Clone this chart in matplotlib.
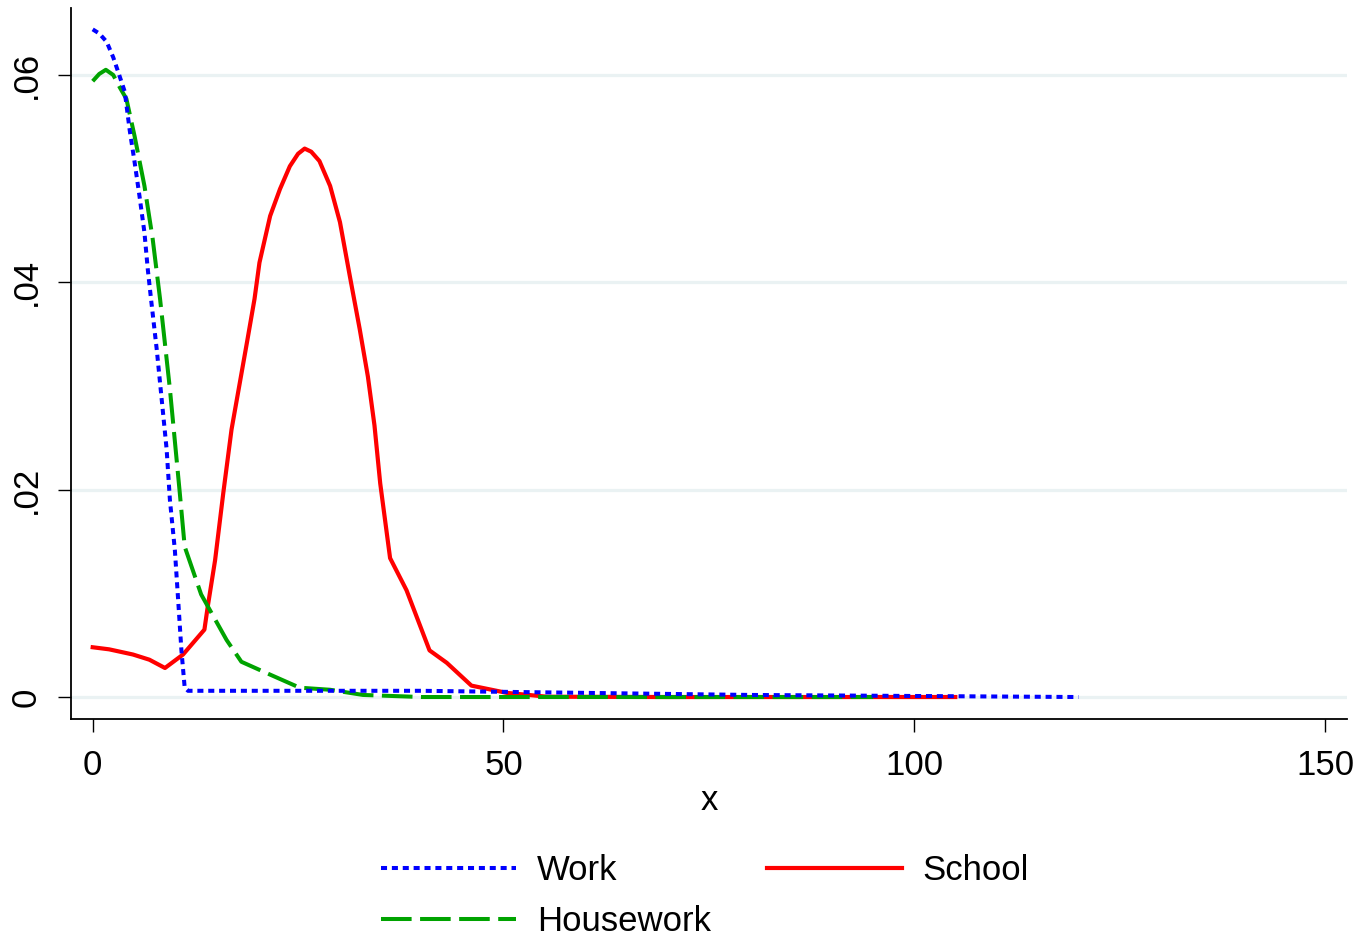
import matplotlib
matplotlib.use("Agg")
import matplotlib.pyplot as plt

plt.rcParams['font.family'] = ['Liberation Sans', 'DejaVu Sans']

# Data
work_x = [0, 0.8, 1.7, 2.5, 3.1, 3.9, 4.5, 5.1, 5.7, 6.3, 6.7, 7.1, 7.8, 8.4, 9.0,
          9.4, 10.0, 10.4, 10.8, 11.2, 11.6, 20, 30, 40, 50, 60, 70, 80, 90, 100, 110, 120]
work_y = [0.0644, 0.0640, 0.0632, 0.0617, 0.0603, 0.0584, 0.0547, 0.0516, 0.0483, 0.0448,
          0.0413, 0.0384, 0.0335, 0.0287, 0.0239, 0.0190, 0.0142, 0.0094, 0.0045, 0.0009,
          0.0006, 0.0006, 0.0006, 0.0006, 0.0005, 0.0004, 0.0003, 0.0002, 0.00015, 0.0001,
          0.00005, 0.0]

house_x = [0, 0.8, 1.6, 2.5, 3.3, 4.1, 5.1, 6.3, 7.3, 8.2, 9.4, 10.6, 11.2, 13.2, 16.3,
           18.1, 21.2, 25.2, 28.9, 32.9, 40, 50, 60, 70, 80, 95]
house_y = [0.0594, 0.0601, 0.0605, 0.0600, 0.0588, 0.0577, 0.0541, 0.0493, 0.0442, 0.0384,
           0.0297, 0.0197, 0.0145, 0.0099, 0.0055, 0.0034, 0.0023, 0.0009, 0.0007, 0.0002,
           0.0, 0.0, 0.0, 0.0, 0.0, 0.0]

school_x = [0, 2, 4.9, 6.9, 8.8, 11.0, 13.6, 14.0, 14.9, 15.9, 16.9, 18.8, 19.7, 20.3, 21.6,
            22.8, 24.0, 25.0, 25.8, 26.6, 27.6, 28.9, 30.1, 31.3, 32.5, 33.5, 34.3, 35.0,
            36.2, 38.2, 41.0, 43.1, 46.1, 50.4, 55.3, 70, 85, 105]
school_y = [0.0048, 0.0046, 0.0041, 0.0036, 0.0028, 0.0041, 0.0065, 0.0087, 0.0132, 0.0197,
            0.0258, 0.0343, 0.0384, 0.0419, 0.0464, 0.0490, 0.0512, 0.0524, 0.0529, 0.0526,
            0.0517, 0.0493, 0.0458, 0.0406, 0.0355, 0.0309, 0.0262, 0.0206, 0.0134, 0.0103,
            0.0045, 0.0033, 0.0011, 0.0004, 0.00003, 0.0, 0.0, 0.0]

x_ticks = [0, 50, 100, 150]
x_ticklabels = ["0", "50", "100", "150"]
y_ticks = [0, 0.02, 0.04, 0.06]
y_ticklabels = ["0", ".02", ".04", ".06"]

FS = 25
fig = plt.figure(figsize=(13.61, 9.36), dpi=100)
ax = fig.add_axes([71/1361, 1 - 719/936, (1347 - 71)/1361, (719 - 8)/936])

ax.set_xlim(-2.64, 152.68)
ax.set_ylim(-0.00212, 0.06646)

for yt in y_ticks:
    ax.axhline(yt, color='#EAF2F3', lw=2.3, zorder=1)

l_work, = ax.plot(work_x, work_y, color='#0000FF', lw=2.9, dashes=(1.5, 1.2),
                  dash_capstyle='butt', zorder=4, label='Work')
l_house, = ax.plot(house_x, house_y, color='#00A300', lw=2.9, dashes=(7.6, 2.1),
                   dash_capstyle='butt', zorder=3, label='Housework')
l_school, = ax.plot(school_x, school_y, color='#FF0000', lw=3.0, zorder=2, label='School')

ax.spines['top'].set_visible(False)
ax.spines['right'].set_visible(False)
for s in ('left', 'bottom'):
    ax.spines[s].set_linewidth(1.3)
    ax.spines[s].set_color('black')

ax.set_xticks(x_ticks)
ax.set_xticklabels(x_ticklabels)
ax.set_yticks(y_ticks)
ax.set_yticklabels(y_ticklabels)
ax.tick_params(axis='both', direction='out', length=9.4, width=1.0, labelsize=FS)
ax.tick_params(axis='x', pad=12)
ax.tick_params(axis='y', pad=11)
for lab in ax.get_yticklabels():
    lab.set_rotation(90)
    lab.set_va('center')
    lab.set_ha('right')

ax.set_xlabel('x', fontsize=FS, labelpad=2)

leg = fig.legend(handles=[l_work, l_house, l_school],
                 labels=['Work', 'Housework', 'School'],
                 ncol=2, loc='center', bbox_to_anchor=(705/1361, 1 - 896/936),
                 frameon=False, fontsize=FS, handlelength=3.9, handletextpad=0.6,
                 columnspacing=1.6, labelspacing=0.5)

fig.savefig('out.png', dpi=100)
